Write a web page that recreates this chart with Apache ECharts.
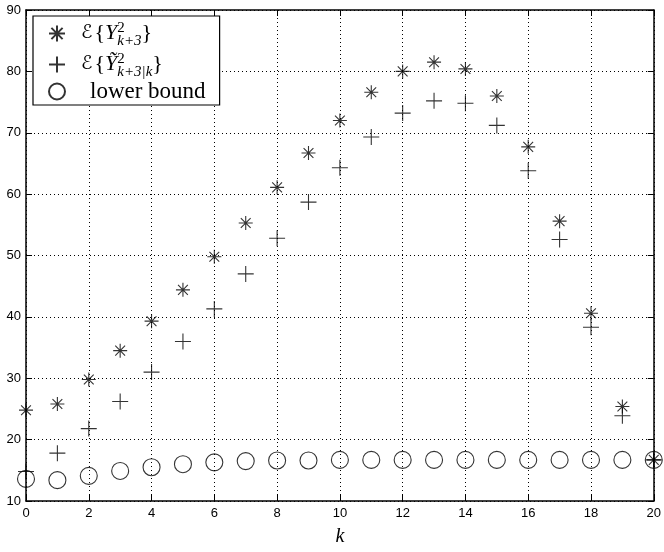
<!DOCTYPE html>
<html>
<head>
<meta charset="utf-8">
<script src="https://cdn.jsdelivr.net/npm/echarts@6/dist/echarts.min.js"></script>
<style>
  html, body { margin: 0; padding: 0; background: #fff; }
  #chart { width: 664px; height: 552px; }
</style>
</head>
<body>
<div id="chart"></div>
<script>
// k values 0..20
const kValues = [0, 1, 2, 3, 4, 5, 6, 7, 8, 9, 10, 11, 12, 13, 14, 15, 16, 17, 18, 19, 20];
// E{Y^2_{k+3}}
const starValues = [24.8, 25.8, 29.8, 34.5, 39.3, 44.4, 49.8, 55.3, 61.1, 66.7, 72.0, 76.6, 80.0, 81.5, 80.4, 76.0, 67.7, 55.6, 40.6, 25.4, 16.7];
// E{Ytilde^2_{k+3|k}}
const plusValues = [14.8, 17.8, 21.8, 26.2, 31.0, 36.0, 41.3, 47.0, 52.8, 58.7, 64.3, 69.3, 73.2, 75.2, 74.8, 71.2, 63.8, 52.6, 38.3, 23.9, 16.7];
// lower bound
const boundValues = [13.6, 13.4, 14.1, 14.9, 15.5, 16.0, 16.3, 16.5, 16.6, 16.6, 16.7, 16.7, 16.7, 16.7, 16.7, 16.7, 16.7, 16.7, 16.7, 16.7, 16.7];

const xTicks = { min: 0, max: 20, interval: 2 };
const yTicks = { min: 10, max: 90, interval: 10 };

const pair = (vals) => kValues.map((k, i) => [k, vals[i]]);

const plusPath = 'path://M5 0L5 10M0 5L10 5';
const starPath = 'path://M5 0L5 10M0 5L10 5M1.5 1.5L8.5 8.5M8.5 1.5L1.5 8.5';

const chart = echarts.init(document.getElementById('chart'));

const tickFont = { fontFamily: 'Liberation Sans', fontSize: 13, color: '#000' };
const gridLine = { show: true, lineStyle: { color: '#000', type: [1, 3], width: 1 } };
const axisLine = { show: true, onZero: false, lineStyle: { color: '#000', width: 1.5 } };
const axisTick = { show: true, inside: true, length: 6, lineStyle: { color: '#000' } };

const serif = 'Liberation Serif';
const legendRich = {
  n: { fontFamily: serif, fontSize: 22, color: '#000', lineHeight: 31 },
  e: { fontFamily: 'DejaVu Sans', fontStyle: 'italic', fontSize: 19, color: '#000', lineHeight: 31, padding: [0, 2, 0, 6] },
  i: { fontFamily: serif, fontStyle: 'italic', fontSize: 22, color: '#000', lineHeight: 31 },
  sup: { fontFamily: serif, fontSize: 15, color: '#000', verticalAlign: 'top', width: 0, lineHeight: 31, padding: [3, 0, 0, 0] },
  sub: { fontFamily: serif, fontStyle: 'italic', fontSize: 15, color: '#000', verticalAlign: 'bottom', lineHeight: 31 },
  lb: { fontFamily: serif, fontSize: 23, color: '#000', lineHeight: 22, padding: [0, 0, 0, 15] }
};

chart.setOption({
  animation: false,
  backgroundColor: '#fff',
  grid: { left: 26, right: 6, top: 10, bottom: 45 },
  legend: {
    orient: 'vertical',
    left: 33,
    top: 16,
    padding: [2, 14, 2, 15],
    itemGap: 0,
    itemWidth: 26,
    itemHeight: 16,
    backgroundColor: '#fff',
    borderColor: '#000',
    borderWidth: 1.2,
    borderRadius: 0,
    data: ['star', 'plus', 'bound'],
    formatter: function (name) {
      if (name === 'star') return '{e|ℰ}{n|{}{i|Y}{sup|2}{sub|k+3}{n|}}';
      if (name === 'plus') return '{e|ℰ}{n|{}{i|Ỹ}{sup|2}{sub|k+3|k}{n|}}';
      return '{lb|lower bound}';
    },
    textStyle: { fontFamily: serif, fontSize: 22, color: '#000', rich: legendRich }
  },
  xAxis: [{
    type: 'value',
    min: xTicks.min, max: xTicks.max, interval: xTicks.interval,
    name: 'k',
    nameLocation: 'middle',
    nameGap: 26,
    nameTextStyle: { fontFamily: serif, fontStyle: 'italic', fontSize: 20, color: '#000' },
    axisLine, axisTick,
    axisLabel: Object.assign({ margin: 6 }, tickFont),
    splitLine: gridLine
  }, {
    type: 'value', position: 'top',
    min: xTicks.min, max: xTicks.max, interval: xTicks.interval,
    axisLine, axisTick, axisLabel: { show: false }, splitLine: { show: false }
  }],
  yAxis: [{
    type: 'value',
    min: yTicks.min, max: yTicks.max, interval: yTicks.interval,
    axisLine, axisTick,
    axisLabel: Object.assign({ margin: 5 }, tickFont),
    splitLine: gridLine
  }, {
    type: 'value', position: 'right',
    min: yTicks.min, max: yTicks.max, interval: yTicks.interval,
    axisLine, axisTick, axisLabel: { show: false }, splitLine: { show: false }
  }],
  series: [
    {
      name: 'star', type: 'scatter', data: pair(starValues),
      symbol: starPath, symbolSize: 14, clip: false,
      itemStyle: { color: 'rgba(0,0,0,0)', borderColor: '#000', borderWidth: 1.1 }
    },
    {
      name: 'plus', type: 'scatter', data: pair(plusValues),
      symbol: plusPath, symbolSize: 16, clip: false,
      itemStyle: { color: 'rgba(0,0,0,0)', borderColor: '#000', borderWidth: 1.1 }
    },
    {
      name: 'bound', type: 'scatter', data: pair(boundValues),
      symbol: 'circle', symbolSize: 17, clip: false,
      itemStyle: { color: 'rgba(0,0,0,0)', borderColor: '#000', borderWidth: 1.1 }
    }
  ]
});
</script>
</body>
</html>
